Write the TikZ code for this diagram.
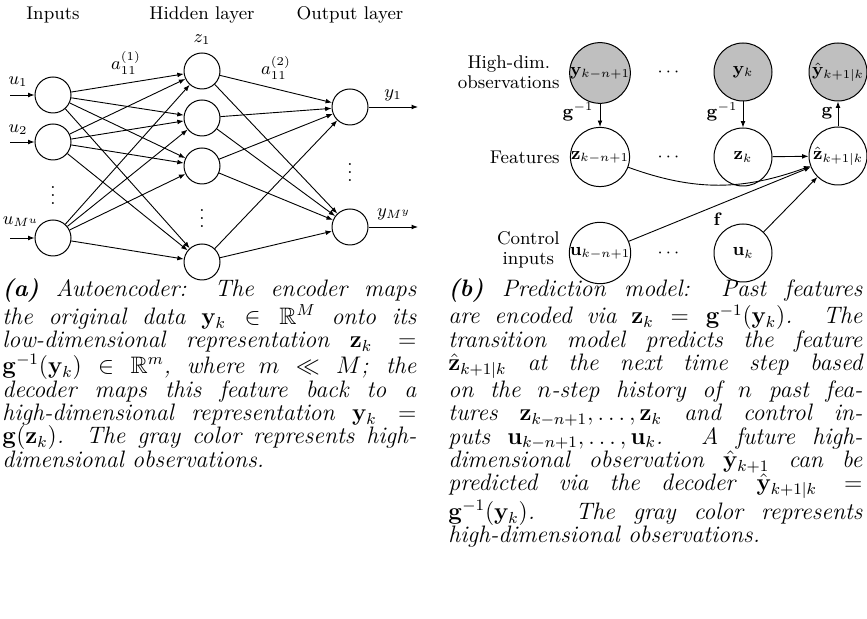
\documentclass[tikz,border=0pt]{standalone}
\usepackage{amsmath,amssymb}
\usetikzlibrary{arrows.meta}
\begin{document}
\begin{tikzpicture}[x=0.5pt,y=-0.5pt,
  neuron/.style={circle,draw,line width=0.5pt,minimum size=18pt,inner sep=0pt},
  bignode/.style={circle,draw,line width=0.5pt,minimum size=29pt,inner sep=0pt},
  obsnode/.style={bignode,fill=black!25},
  conn/.style={-{Latex[length=3.2pt,width=2.4pt]},line width=0.45pt},
  lbl/.style={inner sep=0pt},
  captext/.style={anchor=base west,inner sep=0pt},
  font=\fontsize{9.2}{10}\selectfont]
\useasboundingbox (0,0) rectangle (867,619);

% ---------------- (a) network ----------------
\node[lbl] (hin) at (53,15) {Inputs};
\node[lbl] (hhid) at (202,15) {Hidden layer};
\node[lbl] (hout) at (350,15) {Output layer};

\node[neuron] (i1) at (53,95) {};
\node[neuron] (i2) at (53,142) {};
\node[lbl] (idots) at (53,190) {$\vdots$};
\node[neuron] (i3) at (53,238) {};

\node[neuron] (h1) at (202,71) {};
\node[neuron] (h2) at (202,118) {};
\node[neuron] (h3) at (202,166) {};
\node[lbl] (hdots) at (202,213) {$\vdots$};
\node[neuron] (h4) at (202,262) {};

\node[neuron] (o1) at (350,107) {};
\node[lbl] (odots) at (350,167) {$\vdots$};
\node[neuron] (o2) at (350,227) {};

\node[lbl] (z1) at (202,40) {$z_1$};
\node[lbl] (a1) at (126,63) {$a_{11}^{(1)}$};
\node[lbl] (a2) at (276,68) {$a_{11}^{(2)}$};

\coordinate (s1) at (10,95);
\coordinate (s2) at (10,142);
\coordinate (s3) at (10,238);
\draw[conn] (s1) -- (i1);
\draw[conn] (s2) -- (i2);
\draw[conn] (s3) -- (i3);
\node[lbl] (u1) at (18,82) {$u_1$};
\node[lbl] (u2) at (18,130) {$u_2$};
\node[lbl] (u3) at (21,222) {$u_{M^u}$};

\foreach \a in {i1,i2,i3}
  \foreach \b in {h1,h2,h3,h4}
    \draw[conn] (\a) -- (\b);
\foreach \a in {h1,h2,h3,h4}
  \foreach \b in {o1,o2}
    \draw[conn] (\a) -- (\b);

\coordinate (e1) at (418,107);
\coordinate (e2) at (418,227);
\draw[conn] (o1) -- (e1);
\draw[conn] (o2) -- (e2);
\node[lbl] (y1) at (393,95) {$y_1$};
\node[lbl] (y2) at (394,214) {$y_{M^y}$};

% ---------------- (b) prediction model ----------------
\node[lbl,align=center,anchor=east] (rl1) at (560,72) {High-dim.\\observations};
\node[lbl,anchor=east] (rl2) at (560,157) {Features};
\node[lbl,align=center,anchor=east] (rl3) at (560,250) {Control\\inputs};

\node[obsnode] (Y1) at (600,73) {$\mathbf{y}_{k-n+1}$};
\node[lbl] (Yd) at (670,72) {$\cdots$};
\node[obsnode] (Yk) at (743,72) {$\mathbf{y}_k$};
\node[obsnode] (Yh) at (838,72) {$\hat{\mathbf{y}}_{k+1|k}$};

\node[bignode] (Z1) at (600,157) {$\mathbf{z}_{k-n+1}$};
\node[lbl] (Zd) at (670,157) {$\cdots$};
\node[bignode] (Zk) at (743,157) {$\mathbf{z}_k$};
\node[bignode] (Zh) at (838,156) {$\hat{\mathbf{z}}_{k+1|k}$};

\node[bignode] (U1) at (600,253) {$\mathbf{u}_{k-n+1}$};
\node[lbl] (Ud) at (670,253) {$\cdots$};
\node[bignode] (Uk) at (743,253) {$\mathbf{u}_k$};

\draw[conn] (Y1) -- (Z1);
\draw[conn] (Yk) -- (Zk);
\draw[conn] (Zh) -- (Yh);
\node[lbl] (g1) at (578,112) {$\mathbf{g}^{-1}$};
\node[lbl] (g2) at (722,112) {$\mathbf{g}^{-1}$};
\node[lbl] (g3) at (827,113) {$\mathbf{g}$};

\draw[conn] (Zk) -- (Zh);
\draw[conn] (Z1) to[out=-20,in=200] (Zh);
\draw[conn] (U1) -- (Zh);
\draw[conn] (Uk) -- (Zh);
\node[lbl] (f) at (718,219) {$\mathbf{f}$};

% ---------------- captions ----------------
\node[captext] (capa) at (2,297) {\parbox[t]{207pt}{\fontsize{11.9}{11.7}\selectfont\itshape
\tolerance=10000\hbadness=10000\emergencystretch=20pt
\textbf{(a)} Autoencoder: The encoder maps\linebreak
the original data $\mathbf{y}_k \in \mathbb{R}^M$ onto its\linebreak
low-dimensional representation $\mathbf{z}_k =$\linebreak
$\mathbf{g}^{-1}(\mathbf{y}_k) \in \mathbb{R}^m$, where $m \ll M$; the\linebreak
decoder maps this feature back to a\linebreak
high-dimensional representation $\mathbf{y}_k =$\linebreak
$\mathbf{g}(\mathbf{z}_k)$. The gray color represents high-\linebreak
dimensional observations.}};

\node[captext] (capb) at (448,297) {\parbox[t]{207pt}{\fontsize{11.9}{11.7}\selectfont\itshape
\tolerance=10000\hbadness=10000\emergencystretch=20pt
\textbf{(b)} Prediction model: Past features\linebreak
are encoded via $\mathbf{z}_k = \mathbf{g}^{-1}(\mathbf{y}_k)$. The\linebreak
transition model predicts the feature\linebreak
$\hat{\mathbf{z}}_{k+1|k}$ at the next time step based\linebreak
on the $n$-step history of $n$ past fea-\linebreak
tures $\mathbf{z}_{k-n+1},\dots,\mathbf{z}_k$ and control in-\linebreak
puts $\mathbf{u}_{k-n+1},\dots,\mathbf{u}_k$. A future high-\linebreak
dimensional observation $\hat{\mathbf{y}}_{k+1}$ can be\linebreak
predicted via the decoder $\hat{\mathbf{y}}_{k+1|k} =$\linebreak
$\mathbf{g}^{-1}(\mathbf{y}_k)$. The gray color represents\linebreak
high-dimensional observations.}};
\end{tikzpicture}
\end{document}
